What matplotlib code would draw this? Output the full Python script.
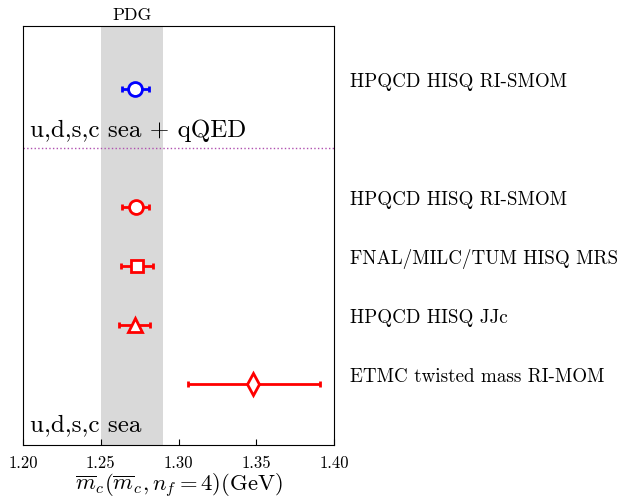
import matplotlib
matplotlib.use("Agg")
import matplotlib.pyplot as plt

plt.rcParams['font.family'] = 'serif'
plt.rcParams['font.serif'] = ['cmr10', 'DejaVu Serif']
plt.rcParams['mathtext.fontset'] = 'cm'
plt.rcParams['axes.formatter.use_mathtext'] = True

labels = ["ETMC twisted mass RI-MOM", "HPQCD HISQ JJc",
          "FNAL/MILC/TUM HISQ MRS", "HPQCD HISQ RI-SMOM", "HPQCD HISQ RI-SMOM"]
values = [1.348, 1.2718, 1.2731, 1.2725, 1.2720]
err_lo = [1.3059, 1.2615, 1.2628, 1.2639, 1.2637]
err_hi = [1.3908, 1.2819, 1.2838, 1.2810, 1.2808]
ypos = [1, 2, 3, 4, 6]
markers = ['d', '^', 's', 'o', 'o']
colors = ['red', 'red', 'red', 'red', 'blue']
msizes = [11, 10, 9, 10, 10]
pdg_band = (1.25, 1.29)
sep_y = 5

fig = plt.figure(figsize=(6.21, 5.0), dpi=100)
ax = fig.add_axes([0.037, 0.11, 0.501, 0.838])

ax.axvspan(pdg_band[0], pdg_band[1], color='#d9d9d9', lw=0, zorder=0)
ax.axhline(sep_y, color='#b050b0', ls=':', lw=1.0)

for v, lo, hi, y, m, c, ms, lab in zip(values, err_lo, err_hi, ypos, markers, colors, msizes, labels):
    ax.errorbar([v], [y], xerr=[[v - lo], [hi - v]], fmt=m, color=c, mfc='white',
                mec=c, mew=2, ms=ms, elinewidth=2, capsize=2, capthick=2, zorder=3)
    ax.text(1.41, y + 0.03, lab, fontsize=13.7, va='baseline', ha='left', transform=ax.transData, clip_on=False)

ax.set_xlim(1.20, 1.40)
ax.set_ylim(-0.034, 7.068)
ax.set_yticks([])
ax.set_xticks([1.20, 1.25, 1.30, 1.35, 1.40])
ax.set_xticklabels(["1.20", "1.25", "1.30", "1.35", "1.40"])
ax.tick_params(axis='x', direction='in', length=4, labelsize=12, pad=8)

ax.text(0.0225, 5 + 0.3, "u,d,s,c sea + qQED", fontsize=18, transform=ax.get_yaxis_transform(),
        ha='left', va='center')
ax.text(0.0225, 0.3, "u,d,s,c sea", fontsize=18, transform=ax.get_yaxis_transform(),
        ha='left', va='center')
ax.text(sum(pdg_band) / 2, 1.006, "PDG", fontsize=12.7, ha='center', va='bottom',
        transform=ax.get_xaxis_transform())

ax.set_xlabel(r"$\overline{m}_c(\overline{m}_c, n_f = 4)(\mathrm{GeV})$", fontsize=16.3)
ax.xaxis.set_label_coords(0.5, -0.064)

fig.savefig("out.png", dpi=100)
